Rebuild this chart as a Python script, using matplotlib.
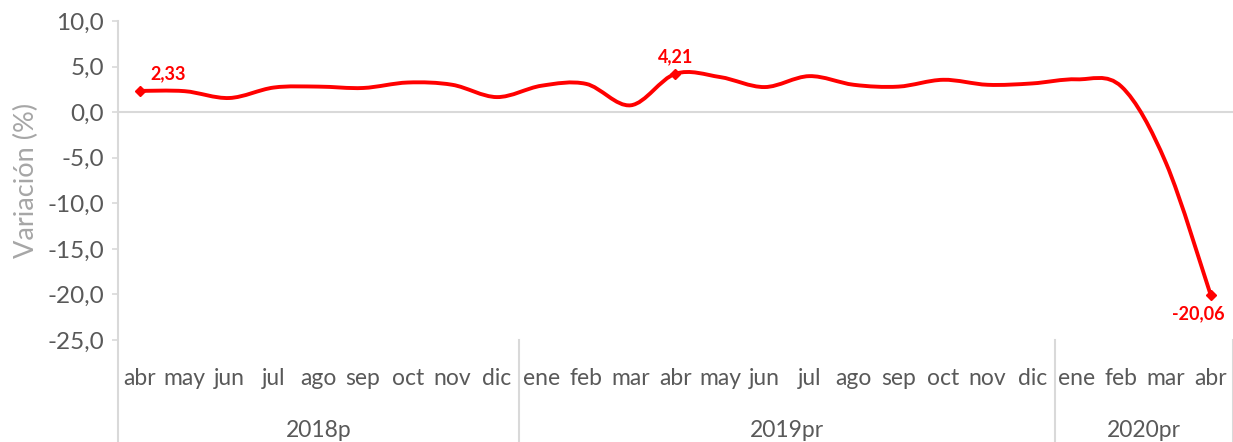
import matplotlib
matplotlib.use("Agg")
import matplotlib.pyplot as plt
import numpy as np
from matplotlib.patches import PathPatch
from matplotlib.path import Path
from matplotlib.ticker import FuncFormatter

# monthly variation (%), abr 2018 .. abr 2020
MONTHS = ["abr", "may", "jun", "jul", "ago", "sep", "oct", "nov", "dic",
          "ene", "feb", "mar", "abr", "may", "jun", "jul", "ago", "sep",
          "oct", "nov", "dic", "ene", "feb", "mar", "abr"]
VALUES = [2.33, 2.3, 1.55, 2.7, 2.8, 2.65, 3.25, 3.0, 1.65,
          2.9, 3.1, 0.75, 4.21, 3.85, 2.75, 3.95, 3.0, 2.8,
          3.55, 3.0, 3.15, 3.6, 2.8, -5.6, -20.06]
YEARS = ["2018p", "2019pr", "2020pr"]
YEAR_SIZES = [9, 12, 4]
LABELED = [0, 12, 24]
LABEL_TEXT = ["2,33", "4,21", "-20,06"]

RED = "#ff0000"
GRAY = "#595959"
LIGHT = "#d9d9d9"
FONT = ["Lato", "DejaVu Sans"]

plt.rcParams["font.family"] = FONT


def smooth_path(xs, ys):
    # Excel-style smoothed line as a chain of cubic Bezier segments
    pts = np.column_stack([xs, ys])
    n = len(pts)
    verts = [pts[0]]
    codes = [Path.MOVETO]
    for i in range(n - 1):
        p0 = pts[i - 1] if i > 0 else pts[i]
        p1 = pts[i]
        p2 = pts[i + 1]
        p3 = pts[i + 2] if i + 2 < n else pts[i + 1]
        c1 = p1 + (p2 - p0) / 6.0
        c2 = p2 - (p3 - p1) / 6.0
        verts += [c1, c2, p2]
        codes += [Path.CURVE4] * 3
    return Path(verts, codes)


fig = plt.figure(figsize=(12.33, 4.42), dpi=100)
ax = fig.add_axes([0.0955, 0.2308, 0.9045, 0.7217])

x = np.arange(len(VALUES))
ax.add_patch(PathPatch(smooth_path(x, np.array(VALUES)), fill=False,
                       edgecolor=RED, lw=2.8, capstyle="round", zorder=3))
ax.plot(x[LABELED], np.array(VALUES)[LABELED], ls="none", marker="D",
        ms=5, color=RED, zorder=4)

offsets = [(0.62, 1.9), (0.0, 1.85), (-0.28, -2.05)]
for idx, txt, (dx, dy) in zip(LABELED, LABEL_TEXT, offsets):
    ax.text(idx + dx, VALUES[idx] + dy, txt, color=RED, fontsize=13,
            fontweight="bold", ha="center", va="center")

ax.axhline(0, color=LIGHT, lw=1.5, zorder=1)
ax.set_xlim(-0.5, len(VALUES) - 0.5)
ax.set_ylim(-25, 10)
ax.set_yticks(np.arange(-25, 10.1, 5))
ax.yaxis.set_major_formatter(FuncFormatter(lambda v, _: f"{v:.1f}".replace(".", ",")))
ax.tick_params(axis="y", colors=LIGHT, labelcolor=GRAY, labelsize=17.5,
               length=4, width=1.2, pad=6)

ax.set_xticks(x)
ax.set_xticklabels(MONTHS)
ax.tick_params(axis="x", length=0, labelsize=16.5, labelcolor=GRAY, pad=20)

for side in ["top", "right", "bottom", "left"]:
    ax.spines[side].set_visible(False)

ax.set_ylabel("Variación (%)", color="#a6a6a6", fontsize=19.5, labelpad=6)

# multi-level category separators and year labels
trans = ax.get_xaxis_transform()
bounds = np.concatenate([[0], np.cumsum(YEAR_SIZES)]) - 0.5
for b in bounds:
    ax.plot([b, b], [1.0 if b == bounds[0] else 0.0, -0.33], color=LIGHT,
            lw=1.5, transform=trans, clip_on=False)
for name, lo, hi in zip(YEARS, bounds[:-1], bounds[1:]):
    ax.text((lo + hi) / 2, -0.285, name, transform=trans, ha="center",
            va="center", fontsize=16.5, color=GRAY)

fig.savefig("out.png", dpi=100)
